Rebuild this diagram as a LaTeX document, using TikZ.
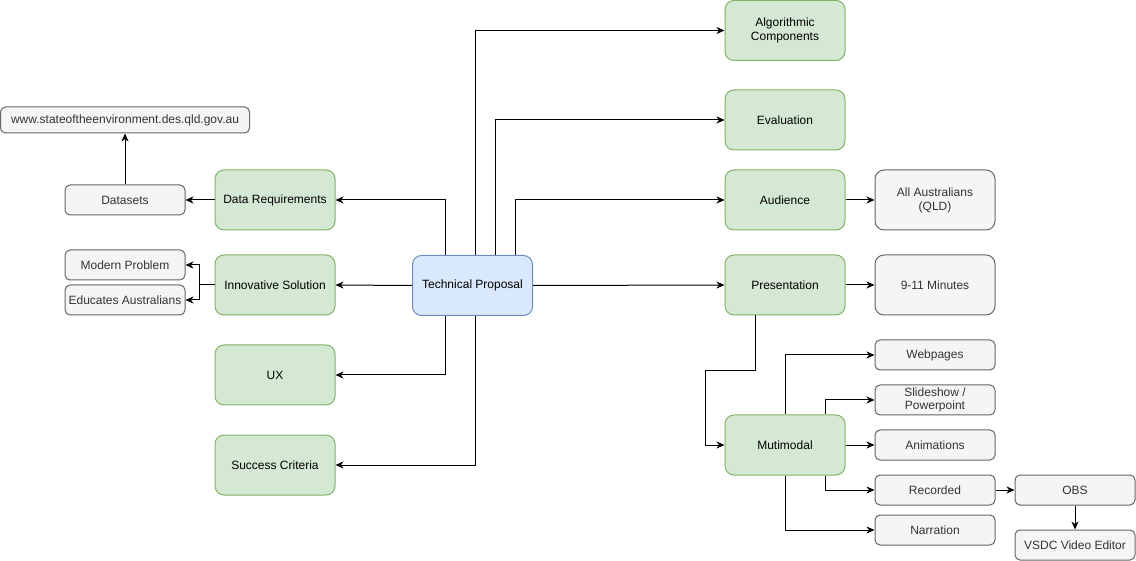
\documentclass[tikz,border=0pt]{standalone}
\usepackage{fontspec}
\setmainfont{Liberation Sans}
\usetikzlibrary{arrows.meta}
\definecolor{gfill}{HTML}{D5E8D4}
\definecolor{gline}{HTML}{82B366}
\definecolor{bfill}{HTML}{DAE8FC}
\definecolor{bline}{HTML}{6C8EBF}
\definecolor{hfill}{HTML}{F5F5F5}
\definecolor{hline}{HTML}{666666}
\definecolor{htext}{HTML}{333333}
\tikzset{
  base/.style={rectangle, draw, line width=1pt, inner sep=2pt, align=center,
    font=\fontsize{12}{14}\selectfont},
  green/.style={base, fill=gfill, draw=gline, text=black, minimum width=120pt,
    minimum height=60pt, rounded corners=9pt},
  blue/.style={base, fill=bfill, draw=bline, text=black, minimum width=120pt,
    minimum height=60pt, rounded corners=9pt},
  gray/.style={base, fill=hfill, draw=hline, text=htext, minimum width=120pt,
    minimum height=30pt, rounded corners=5pt},
  grayt/.style={gray, minimum height=60pt, rounded corners=9pt},
  arr/.style={line width=1pt, -{Stealth[length=8pt,width=7pt,inset=2.5pt]}},
}
\begin{document}
\begin{tikzpicture}[x=1pt,y=-1pt]
\useasboundingbox (0,0) rectangle (1136,561);
% nodes
\node[blue] (tp) at (472.5,285.5) {Technical Proposal};
\node[green] (dr) at (275,200) {Data Requirements};
\node[green] (is) at (275,285) {Innovative Solution};
\node[green] (ux) at (275,375) {UX};
\node[green] (sc) at (275,465) {Success Criteria};
\node[green] (ac) at (785,30.5) {Algorithmic\\Components};
\node[green] (ev) at (785,120) {Evaluation};
\node[green] (au) at (785,200) {Audience};
\node[green] (pr) at (785,285) {Presentation};
\node[green] (mm) at (785,445) {Mutimodal};
\node[gray, minimum width=249pt, minimum height=26pt] (www) at (125,120) {www.stateoftheenvironment.des.qld.gov.au};
\node[gray] (ds) at (125,200) {Datasets};
\node[gray] (mp) at (125,265) {Modern Problem};
\node[gray] (ea) at (125,300) {Educates Australians};
\node[grayt] (aa) at (935,200) {All Australians\\(QLD)};
\node[grayt] (mn) at (935,285) {9-11 Minutes};
\node[gray] (wp) at (935,355) {Webpages};
\node[gray, font=\fontsize{12}{13.5}\selectfont] (ss) at (935,400) {Slideshow /\\Powerpoint};
\node[gray] (an) at (935,445) {Animations};
\node[gray] (rc) at (935,490) {Recorded};
\node[gray] (na) at (935,530) {Narration};
\node[gray] (obs) at (1075,490) {OBS};
\node[gray] (vs) at (1075,545) {VSDC Video Editor};
% connectors
\draw[arr] ([xshift=-27.5pt]tp.north) |- (dr.east);
\draw[arr] ([xshift=2.5pt]tp.north) |- (ac.west);
\draw[arr] ([xshift=22.5pt]tp.north) |- (ev.west);
\draw[arr] ([xshift=42.5pt]tp.north) |- (au.west);
\draw[arr] (tp.east) -- (pr.west);
\draw[arr] (tp.west) -- (is.east);
\draw[arr] ([xshift=-27.5pt]tp.south) |- (ux.east);
\draw[arr] ([xshift=2.5pt]tp.south) |- (sc.east);
\draw[arr] (dr.west) -- (ds.east);
\draw[arr] (ds.north) -- (www.south);
\draw[arr] (is.west) -- ++(-15,0) |- (mp.east);
\draw[arr] (is.west) -- ++(-15,0) |- (ea.east);
\draw[arr] (au.east) -- (aa.west);
\draw[arr] (pr.east) -- (mn.west);
\draw[arr] ([xshift=-30pt]pr.south) -- ++(0,55.5) -- ++(-50,0) |- (mm.west);
\draw[arr] (mm.north) |- (wp.west);
\draw[arr] ([xshift=40pt]mm.north) |- (ss.west);
\draw[arr] (mm.east) -- (an.west);
\draw[arr] ([xshift=40pt]mm.south) |- (rc.west);
\draw[arr] (mm.south) |- (na.west);
\draw[arr] (rc.east) -- (obs.west);
\draw[arr] (obs.south) -- (vs.north);
\end{tikzpicture}
\end{document}
